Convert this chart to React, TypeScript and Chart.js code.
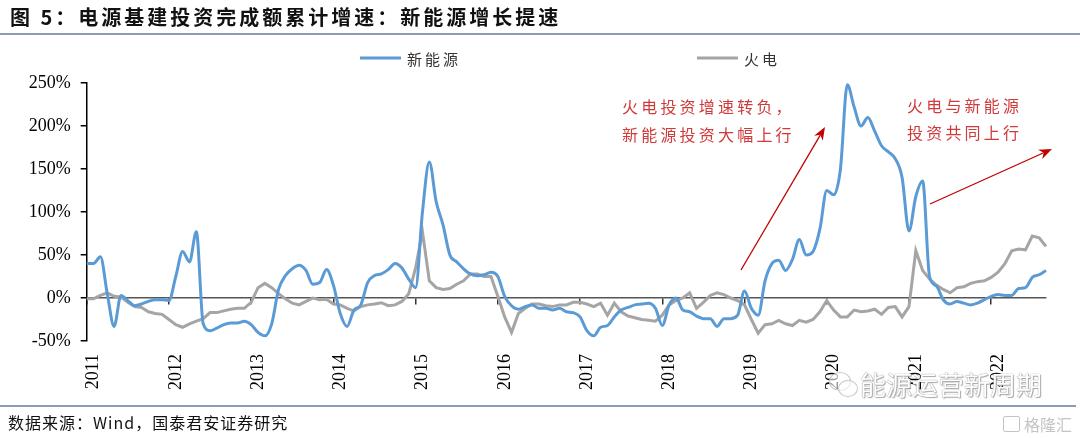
import React, { useEffect, useRef } from 'react';
import { Chart, registerables } from 'chart.js';

Chart.register(...registerables);

const startYear = 2011;
const monthCount = 141;
const months: string[] = [];
for (let i = 0; i < monthCount; i++) {
  const y = startYear + Math.floor(i / 12);
  const m = (i % 12) + 1;
  months.push(`${y}-${String(m).padStart(2, '0')}`);
}

const yearTickLabels = ['2011', '2012', '2013', '2014', '2015', '2016', '2017', '2018', '2019', '2020', '2021', '2022'];
const yTickValues = [-50, 0, 50, 100, 150, 200, 250];

const seriesNames = ['新能源', '火电'];
const seriesColors = ['#5B9BD5', '#A5A5A5'];

// 新能源 cumulative growth (%)
const newEnergy = [
  40, 40, 48, 5, -33, 3, -3, -9, -7, -4, -2, -2,
  -3, 25, 54, 42, 77, -30, -38, -35, -31, -29, -29, -27,
  -31, -40, -44, -30, 10, 26, 34, 38, 32, 16, 18, 33,
  15, -18, -33, -14, -8, 18, 26, 28, 33, 40, 35, 22,
  12, 100, 158, 112, 85, 50, 42, 34, 28, 26, 27, 30,
  25, 2, -9, -13, -10, -8, -12, -12, -14, -12, -16, -17,
  -22, -38, -44, -34, -32, -22, -14, -11, -8, -7, -6, -12,
  -32, -8, 0, -14, -16, -21, -24, -24, -33, -24, -24, -20,
  8, -12, -20, 20, 40, 44, 32, 45, 68, 50, 54, 80,
  125, 120, 150, 248, 222, 200, 210, 194, 177, 170, 162, 140,
  78, 118, 136, 25, 14, -2, -7, -4, -6, -8, -6, -2,
  2, 4, 3, 3, 11, 12, 24, 27, 32,
];

// 火电 cumulative growth (%)
const thermal = [
  -1, -1, 3, 6, 2, 1, -5, -10, -11, -16, -18, -19,
  -25, -31, -34, -30, -27, -24, -17, -17, -15, -13, -12, -12,
  -5, 12, 17, 12, 5, -1, -6, -8, -4, 0, -2, -1.5,
  -7, -8, -12, -15, -10, -8, -7, -5.5, -9, -8, -4, 5,
  35, 77, 20, 12, 10, 11, 16, 20, 28, 28, 25, 25,
  2, -22, -40, -18, -12, -7, -7, -9, -10, -8, -8, -5,
  -5, -7, -10, -6, -20, -6, -16, -21, -23, -25, -26, -27,
  -20, -8, -3, 0, 6, -12, -5, 3, 6, 4, 0, -3,
  -8, -25, -41, -31, -30, -26, -30, -32, -26, -28, -25, -16,
  -3, -14, -22, -22, -14, -16, -15, -13, -19, -11, -10, -22,
  -10, 55, 32, 22, 15, 10, 6, 12, 13, 17, 19, 20,
  24, 30, 40, 55, 57, 56, 72, 70, 60,
];

const noteLeft = ['火电投资增速转负，', '新能源投资大幅上行'];
const noteRight = ['火电与新能源', '投资共同上行'];

const CJK = '"Noto Sans CJK SC", "Noto Sans", sans-serif';
const SERIF = '"Liberation Serif", "DejaVu Serif", serif';

function drawArrow(ctx: CanvasRenderingContext2D, x1: number, y1: number, x2: number, y2: number) {
  const ang = Math.atan2(y2 - y1, x2 - x1);
  const headLen = 13;
  const headW = 5;
  ctx.beginPath();
  ctx.moveTo(x1, y1);
  ctx.lineTo(x2 - headLen * 0.7 * Math.cos(ang), y2 - headLen * 0.7 * Math.sin(ang));
  ctx.stroke();
  ctx.beginPath();
  ctx.moveTo(x2, y2);
  ctx.lineTo(
    x2 - headLen * Math.cos(ang) + headW * Math.sin(ang),
    y2 - headLen * Math.sin(ang) - headW * Math.cos(ang)
  );
  ctx.lineTo(x2 - headLen * 0.7 * Math.cos(ang), y2 - headLen * 0.7 * Math.sin(ang));
  ctx.lineTo(
    x2 - headLen * Math.cos(ang) - headW * Math.sin(ang),
    y2 - headLen * Math.sin(ang) + headW * Math.cos(ang)
  );
  ctx.closePath();
  ctx.fill();
}

const decorPlugin = {
  id: 'decor',
  afterDraw(chart: any) {
    const ctx: CanvasRenderingContext2D = chart.ctx;
    const xs = chart.scales.x;
    const area = chart.chartArea;

    // rotated year labels (reading bottom-to-top)
    ctx.save();
    ctx.font = `18px ${SERIF}`;
    ctx.fillStyle = '#000';
    yearTickLabels.forEach((lab) => {
      const idx = months.indexOf(`${lab}-01`);
      const px = xs.getPixelForValue(idx);
      ctx.save();
      ctx.translate(px + 7, area.bottom + 13);
      ctx.rotate(-Math.PI / 2);
      ctx.textAlign = 'right';
      ctx.textBaseline = 'middle';
      ctx.fillText(lab, 0, 0);
      ctx.restore();
    });
    ctx.restore();

    // legend
    ctx.save();
    const legendPos = [360, 697];
    chart.data.datasets.forEach((ds: any, i: number) => {
      const x = legendPos[i];
      const y = 58;
      ctx.strokeStyle = ds.borderColor;
      ctx.lineWidth = 3;
      ctx.beginPath();
      ctx.moveTo(x, y);
      ctx.lineTo(x + 41, y);
      ctx.stroke();
      ctx.fillStyle = '#333';
      ctx.font = `15px ${CJK}`;
      (ctx as any).letterSpacing = '3px';
      ctx.textAlign = 'left';
      ctx.textBaseline = 'middle';
      ctx.fillText(ds.label, x + 47, y + 1);
    });
    ctx.restore();

    // annotations
    ctx.save();
    ctx.fillStyle = '#D03A3A';
    ctx.font = `16px ${CJK}`;
    (ctx as any).letterSpacing = '3.2px';
    ctx.textAlign = 'left';
    ctx.textBaseline = 'middle';
    noteLeft.forEach((t, i) => ctx.fillText(t, 622, 107 + i * 28));
    noteRight.forEach((t, i) => ctx.fillText(t, 907, 106 + i * 27));
    ctx.strokeStyle = '#C00000';
    ctx.fillStyle = '#C00000';
    ctx.lineWidth = 1.3;
    drawArrow(ctx, 741, 270, 825, 127);
    drawArrow(ctx, 930, 204, 1052, 149);
    ctx.restore();
  },
};

function ChartCanvas() {
  const ref = useRef<HTMLCanvasElement | null>(null);
  useEffect(() => {
    if (!ref.current) return;
    const chart = new Chart(ref.current, {
      type: 'line',
      data: {
        labels: months,
        datasets: [
          {
            label: seriesNames[0],
            data: newEnergy,
            borderColor: seriesColors[0],
            backgroundColor: seriesColors[0],
            borderWidth: 3,
            pointRadius: 0,
            cubicInterpolationMode: 'monotone',
            order: 1,
          },
          {
            label: seriesNames[1],
            data: thermal,
            borderColor: seriesColors[1],
            backgroundColor: seriesColors[1],
            borderWidth: 3,
            pointRadius: 0,
            tension: 0,
            order: 2,
          },
        ],
      },
      options: {
        responsive: false,
        animation: false,
        events: [],
        layout: { padding: { left: 0, right: 34, top: 83, bottom: 97 } },
        plugins: {
          legend: { display: false },
          tooltip: { enabled: false },
          title: { display: false },
        },
        scales: {
          x: {
            type: 'category',
            position: { y: 0 } as any,
            offset: false,
            ticks: { display: false, autoSkip: false },
            grid: {
              drawOnChartArea: false,
              drawTicks: true,
              tickLength: 6,
              lineWidth: 1.5,
              color: (c: any) => (c.index % 12 === 0 ? '#333' : 'rgba(0,0,0,0)'),
            },
            border: { color: '#555', width: 1.5 },
          },
          y: {
            min: -50,
            max: 250,
            afterFit: (s: any) => {
              s.width = 86.7;
            },
            afterBuildTicks: (s: any) => {
              s.ticks = yTickValues.map((v) => ({ value: v }));
            },
            ticks: {
              callback: (v: any) => `${v}%`,
              font: { family: 'Liberation Serif', size: 18 },
              color: '#000',
              padding: 10,
            },
            grid: { drawOnChartArea: false, tickLength: 6, color: '#000', lineWidth: 1.5 },
            border: { color: '#000', width: 1.5 },
          },
        },
      },
      plugins: [decorPlugin],
    });
    return () => chart.destroy();
  }, []);
  return <canvas ref={ref} width={1080} height={438} style={{ position: 'absolute', left: 0, top: 0, width: 1080, height: 438 }} />;
}

export default function App() {
  return (
    <div style={{ position: 'absolute', left: 0, top: 0, width: 1080, height: 438, background: '#fff', overflow: 'hidden' }}>
      <ChartCanvas />
      <div
        style={{
          position: 'absolute', left: 10, top: 3, fontFamily: CJK, fontWeight: 700, fontSize: 20,
          letterSpacing: 3, color: '#111', whiteSpace: 'nowrap', lineHeight: '28px',
        }}
      >
        图 5：电源基建投资完成额累计增速：新能源增长提速
      </div>
      <div style={{ position: 'absolute', left: 0, top: 33, width: 1080, height: 2, background: '#8C9BB5' }} />
      <div style={{ position: 'absolute', left: 0, top: 405, width: 1076, height: 2, background: '#8C9BB5' }} />
      <div
        style={{
          position: 'absolute', left: 8, top: 411, fontFamily: CJK, fontSize: 16, color: '#111',
          whiteSpace: 'nowrap', lineHeight: '22px', letterSpacing: 1,
        }}
      >
        数据来源：Wind，国泰君安证券研究
      </div>
      {/* watermark */}
      <div style={{ position: 'absolute', left: 829, top: 372, width: 20, height: 17, borderRadius: '50%', border: '1.5px solid #c8c8c8', background: 'rgba(255,255,255,0.6)' }} />
      <div style={{ position: 'absolute', left: 838, top: 380, width: 18, height: 15, borderRadius: '50%', border: '1.5px solid #c8c8c8', background: 'rgba(255,255,255,0.6)' }} />
      <div
        style={{
          position: 'absolute', left: 860, top: 367, fontFamily: CJK, fontSize: 26, color: '#fff',
          whiteSpace: 'nowrap', lineHeight: '34px', textShadow: '0 0 1px #999, 0 0 1px #999, 1px 1px 1px #aaa',
        }}
      >
        能源运营新周期
      </div>
      <div style={{ position: 'absolute', left: 1003, top: 416, width: 15, height: 14, border: '1.5px solid #c4c4c4', borderRadius: 2 }} />
      <div
        style={{
          position: 'absolute', left: 1024, top: 413, fontFamily: CJK, fontSize: 16, color: '#c4c4c4',
          whiteSpace: 'nowrap', lineHeight: '22px',
        }}
      >
        格隆汇
      </div>
    </div>
  );
}
